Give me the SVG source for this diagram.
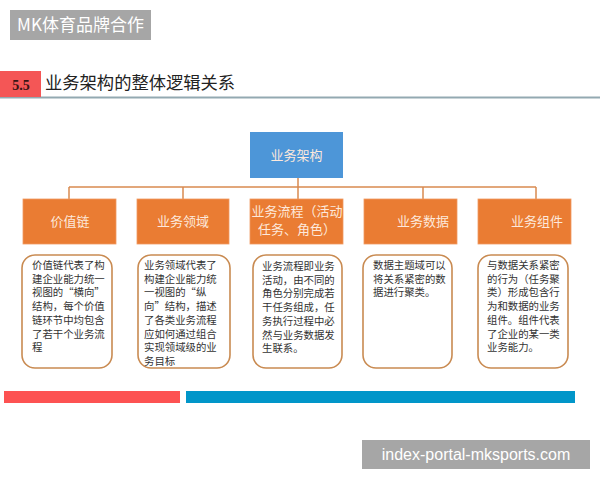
<svg xmlns="http://www.w3.org/2000/svg" width="600" height="480" viewBox="0 0 600 480">
<style>
.cjk{font-family:"Noto Sans CJK SC","Noto Sans",sans-serif}
.top{fill:#4d96d8}
.org{fill:#ea7c33;stroke:#ef9a62;stroke-width:0.8}
.desc{fill:#ffffff;stroke:#c98b52;stroke-width:1.6}
.lbl{font-family:"Noto Sans CJK SC",sans-serif;font-size:13px;fill:#fde9dc;text-anchor:middle}
.dt{font-family:"Noto Sans CJK SC",sans-serif;font-size:10.4px;fill:#333}
.conn{fill:none;stroke:#d98a50;stroke-width:1.5}
</style>
<rect width="600" height="480" fill="#ffffff"/>
<g id="badge">
<rect x="10" y="10" width="141" height="30" fill="#a6a6a6"/>
<text x="80.5" y="31" class="cjk" font-size="17" fill="#ffffff" text-anchor="middle">MK体育品牌合作</text>
</g>
<g id="header">
<line x1="0" y1="97.5" x2="600" y2="97.5" stroke="#93a9b1" stroke-width="2"/>
<rect x="0" y="71" width="41" height="26" fill="#f45656"/>
<text x="21" y="90" font-family="Liberation Serif,serif" font-weight="bold" font-size="14" fill="#3a1414" text-anchor="middle">5.5</text>
<text x="45" y="89" class="cjk" font-size="17.3" fill="#222222">业务架构的整体逻辑关系</text>
</g>
<g id="connectors">
<path class="conn" d="M298 178V187M69 187H536M69 187V199M183 187V199M298 187V199M423 187V199M536 187V199"/>
</g>
<g id="n-root">
<rect class="top" x="250" y="132" width="93" height="46"/>
<text x="296.5" y="160" class="lbl" fill="#ffffff">业务架构</text>
</g>
<g id="n-value">
<rect class="org" x="23" y="199" width="93" height="45"/>
<text x="70" y="226" class="lbl">价值链</text>
</g>
<g id="n-domain">
<rect class="org" x="137" y="199" width="92" height="45"/>
<text x="183" y="226" class="lbl">业务领域</text>
</g>
<g id="n-process">
<rect class="org" x="250" y="199" width="93" height="45"/>
<text x="297" y="216" class="lbl" font-size="12.5">业务流程（活动</text>
<text x="297" y="234" class="lbl" font-size="12.5">任务、角色）</text>
</g>
<g id="n-data">
<rect class="org" x="364" y="199" width="93" height="45"/>
<text x="423" y="226" class="lbl">业务数据</text>
</g>
<g id="n-comp">
<rect class="org" x="478" y="199" width="93" height="45"/>
<text x="537" y="226" class="lbl">业务组件</text>
</g>
<g id="d-value">
<rect class="desc" x="22" y="255" width="90" height="113" rx="13"/>
<text class="dt" x="32" y="269"><tspan x="32">价值链代表了构</tspan><tspan x="32" dy="13.7">建企业能力统一</tspan><tspan x="32" dy="13.7">视图的“横向”</tspan><tspan x="32" dy="13.7">结构，每个价值</tspan><tspan x="32" dy="13.7">链环节中均包含</tspan><tspan x="32" dy="13.7">了若干个业务流</tspan><tspan x="32" dy="13.7">程</tspan></text>
</g>
<g id="d-domain">
<rect class="desc" x="138" y="255" width="92" height="113" rx="13"/>
<text class="dt" x="144" y="269"><tspan x="144">业务领域代表了</tspan><tspan x="144" dy="13.7">构建企业能力统</tspan><tspan x="144" dy="13.7">一视图的“纵</tspan><tspan x="144" dy="13.7">向”结构，描述</tspan><tspan x="144" dy="13.7">了各类业务流程</tspan><tspan x="144" dy="13.7">应如何通过组合</tspan><tspan x="144" dy="13.7">实现领域级的业</tspan><tspan x="144" dy="13.7">务目标</tspan></text>
</g>
<g id="d-process">
<rect class="desc" x="253" y="255" width="89" height="113" rx="13"/>
<text class="dt" x="262" y="270"><tspan x="262">业务流程即业务</tspan><tspan x="262" dy="13.7">活动，由不同的</tspan><tspan x="262" dy="13.7">角色分别完成若</tspan><tspan x="262" dy="13.7">干任务组成，任</tspan><tspan x="262" dy="13.7">务执行过程中必</tspan><tspan x="262" dy="13.7">然与业务数据发</tspan><tspan x="262" dy="13.7">生联系。</tspan></text>
</g>
<g id="d-data">
<rect class="desc" x="363" y="255" width="89" height="113" rx="13"/>
<text class="dt" x="373" y="269"><tspan x="373">数据主题域可以</tspan><tspan x="373" dy="13.7">将关系紧密的数</tspan><tspan x="373" dy="13.7">据进行聚类。</tspan></text>
</g>
<g id="d-comp">
<rect class="desc" x="478" y="255" width="90" height="113" rx="13"/>
<text class="dt" x="487" y="269"><tspan x="487">与数据关系紧密</tspan><tspan x="487" dy="13.7">的行为（任务聚</tspan><tspan x="487" dy="13.7">类）形成包含行</tspan><tspan x="487" dy="13.7">为和数据的业务</tspan><tspan x="487" dy="13.7">组件。组件代表</tspan><tspan x="487" dy="13.7">了企业的某一类</tspan><tspan x="487" dy="13.7">业务能力。</tspan></text>
</g>
<g id="bars">
<rect x="4" y="391" width="176" height="12" fill="#fd5252"/>
<rect x="186" y="391" width="389" height="12" fill="#0196c9"/>
</g>
<g id="watermark">
<rect x="362" y="440" width="228" height="29" fill="#a6a6a6"/>
<text x="476" y="460" font-family="Liberation Sans,Arial,sans-serif" font-size="16" fill="#ffffff" text-anchor="middle">index-portal-mksports.com</text>
</g>
</svg>
